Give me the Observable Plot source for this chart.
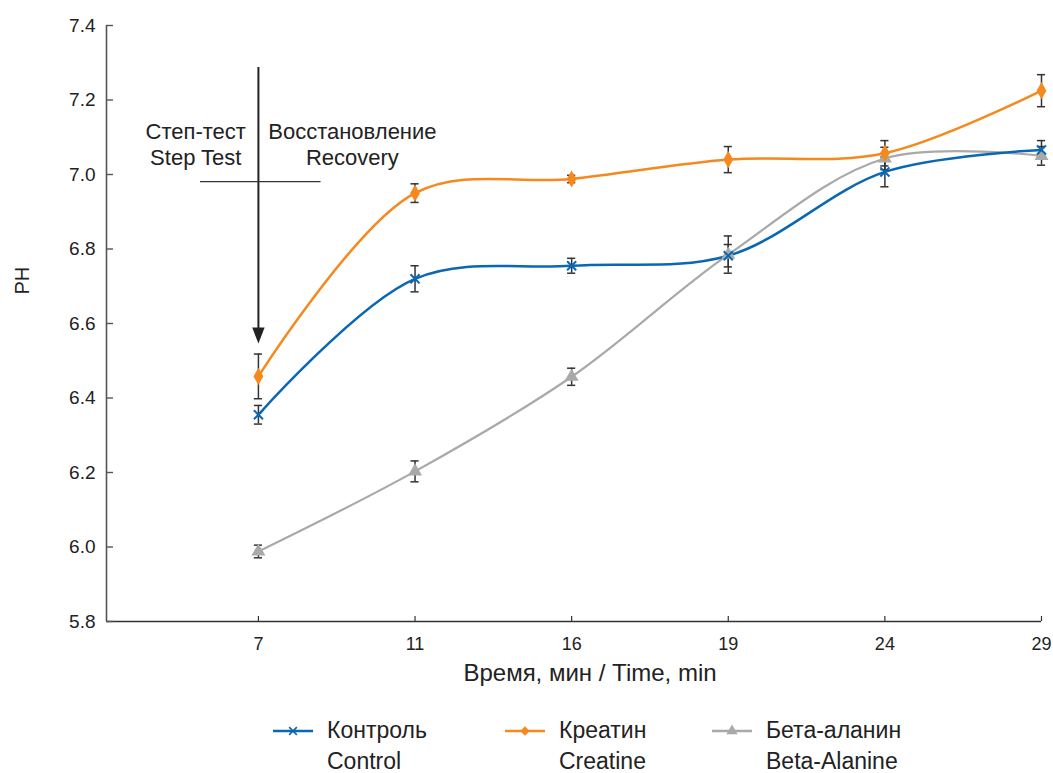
<!DOCTYPE html>
<html>
<head>
<meta charset="utf-8">
<script src="https://cdn.jsdelivr.net/npm/d3@7"></script>
<script src="https://cdn.jsdelivr.net/npm/@observablehq/plot@0.6"></script>
<style>
  body { margin: 0; background: #fff; font-family: "Liberation Sans", Arial, sans-serif; color: #222; }
  #wrap { position: relative; width: 1053px; height: 773px; }
  .legend-item { position: absolute; top: 715px; display: flex; align-items: flex-start; font-size: 23px; line-height: 31px; }
  .legend-item svg { margin-top: 8px; margin-right: 14px; }
</style>
</head>
<body>
<div id="wrap"></div>
<script>
// ---- data ----
const times = [7, 11, 16, 19, 24, 29];
const seriesNames = ["Контроль\nControl", "Креатин\nCreatine", "Бета-аланин\nBeta-Alanine"];
const seriesColors = ["#0a67b4", "#f5891e", "#a9a9a9"];
const control = [6.355, 6.72, 6.755, 6.782, 7.007, 7.066];
const controlErr = [0.025, 0.035, 0.02, 0.03, 0.04, 0.025];
const creatine = [6.458, 6.95, 6.988, 7.04, 7.057, 7.225];
const creatineErr = [0.06, 0.025, 0.01, 0.035, 0.034, 0.043];
const betaAlanine = [5.988, 6.203, 6.457, 6.785, 7.043, 7.05];
const betaAlanineErr = [0.017, 0.028, 0.023, 0.05, 0.03, 0.025];
const yTicks = [5.8, 6.0, 6.2, 6.4, 6.6, 6.8, 7.0, 7.2, 7.4];
// annotation (arrow at 7 min, divider, phase labels)
const arrowY = [7.287, 6.546];
const dividerY = 6.981;
const dividerX = [0.63, 1.4];
const phaseLabels = [
  {label: "Степ-тест\nStep Test", i: 0.6},
  {label: "Восстановление\nRecovery", i: 1.6}
];
const phaseLabelY = 7.083;

const seriesValues = [control, creatine, betaAlanine];
const seriesErrors = [controlErr, creatineErr, betaAlanineErr];
const rows = seriesNames.flatMap((s, k) =>
  times.map((t, j) => ({series: s, i: j + 1, t, v: seriesValues[k][j], e: seriesErrors[k][j]}))
);
const bySeries = name => rows.filter(d => d.series === name);

const arrowHead = {
  draw(ctx) { ctx.moveTo(-6.2, -16); ctx.lineTo(6.2, -16); ctx.lineTo(0, 0); ctx.closePath(); }
};

const font = '"Liberation Sans", Arial, sans-serif';
const colorScale = {domain: seriesNames, range: seriesColors};
const xStart = 0.03;

const chart = Plot.plot({
  width: 1053,
  height: 705,
  marginLeft: 106,
  marginRight: 12,
  marginTop: 25,
  marginBottom: 84,
  style: {fontFamily: font, color: "#222", background: "#fff"},
  x: {domain: [xStart, 6]},
  y: {domain: [5.8, 7.4]},
  color: colorScale,
  marks: [
    Plot.ruleX([xStart], {stroke: "#555", strokeWidth: 1.6}),
    Plot.ruleY([5.8], {stroke: "#333", strokeWidth: 1.4}),
    Plot.axisY({ticks: yTicks, tickFormat: d3.format(".1f"), tickSize: -7, tickPadding: 18, fontSize: 19, label: null, stroke: "#555", strokeWidth: 1.4, fill: "#222"}),
    Plot.axisX({ticks: [1, 2, 3, 4, 5, 6], tickFormat: i => times[i - 1], tickSize: -5, tickPadding: 21, fontSize: 18, label: null, stroke: "#333", strokeWidth: 1.2, fill: "#222"}),
    Plot.text(["Время, мин / Time, min"], {frameAnchor: "bottom", dx: 16, dy: 59, fontSize: 24, fill: "#222"}),
    Plot.text(["PH"], {frameAnchor: "left", rotate: -90, dx: -84, dy: -29, fontSize: 20, fill: "#222"}),
    // annotation
    Plot.ruleX([1], {y1: arrowY[0], y2: arrowY[1], stroke: "#222", strokeWidth: 2, insetBottom: 8}),
    Plot.dot([1], {x: d => d, y: arrowY[1], symbol: arrowHead, fill: "#222", stroke: "none"}),
    Plot.ruleY([dividerY], {x1: dividerX[0], x2: dividerX[1], stroke: "#333", strokeWidth: 1.3}),
    Plot.text(phaseLabels, {x: "i", y: phaseLabelY, text: "label", fontSize: 22, lineHeight: 1.2, fill: "#222"}),
    // error bars
    Plot.ruleX(rows, {x: "i", y1: d => d.v - d.e, y2: d => d.v + d.e, stroke: "#333", strokeWidth: 1.5}),
    Plot.ruleY(rows, {y: d => d.v + d.e, x1: d => d.i - 0.026, x2: d => d.i + 0.026, stroke: "#333", strokeWidth: 1.5}),
    Plot.ruleY(rows, {y: d => d.v - d.e, x1: d => d.i - 0.026, x2: d => d.i + 0.026, stroke: "#333", strokeWidth: 1.5}),
    // lines
    Plot.line(bySeries(seriesNames[2]), {x: "i", y: "v", stroke: "series", strokeWidth: 2.2, curve: "catmull-rom"}),
    Plot.line(bySeries(seriesNames[0]), {x: "i", y: "v", stroke: "series", strokeWidth: 2.5, curve: "catmull-rom"}),
    Plot.line(bySeries(seriesNames[1]), {x: "i", y: "v", stroke: "series", strokeWidth: 2.5, curve: "catmull-rom"}),
    // markers
    Plot.dot(bySeries(seriesNames[2]), {x: "i", y: "v", symbol: "triangle", r: 5.2, fill: "series", stroke: "none"}),
    Plot.dot(bySeries(seriesNames[0]), {x: "i", y: "v", symbol: "times", r: 4.2, stroke: "series", strokeWidth: 2}),
    Plot.dot(bySeries(seriesNames[1]), {x: "i", y: "v", symbol: "diamond", r: 5.2, fill: "series", stroke: "none"})
  ]
});

const wrap = document.getElementById("wrap");
wrap.appendChild(chart);

// legend
const legendLeft = [273, 505, 712];
const legendSymbols = ["times", "diamond", "triangle"];
seriesNames.forEach((name, k) => {
  const item = document.createElement("div");
  item.className = "legend-item";
  item.style.left = legendLeft[k] + "px";
  const svg = d3.create("svg").attr("width", 40).attr("height", 16);
  svg.append("line").attr("x1", 0).attr("x2", 40).attr("y1", 8).attr("y2", 8)
    .attr("stroke", seriesColors[k]).attr("stroke-width", 2.5);
  const sym = legendSymbols[k];
  const p = svg.append("path").attr("transform", "translate(20,8)");
  if (sym === "times") {
    p.attr("d", d3.symbol(d3.symbolTimes, 40)()).attr("stroke", seriesColors[k]).attr("stroke-width", 1.6).attr("fill", "none");
  } else {
    p.attr("d", d3.symbol(sym === "diamond" ? d3.symbolDiamond2 : d3.symbolTriangle, 55)()).attr("fill", seriesColors[k]);
  }
  item.appendChild(svg.node());
  const txt = document.createElement("div");
  txt.innerHTML = name.split("\n").join("<br>");
  item.appendChild(txt);
  wrap.appendChild(item);
});
</script>
</body>
</html>
